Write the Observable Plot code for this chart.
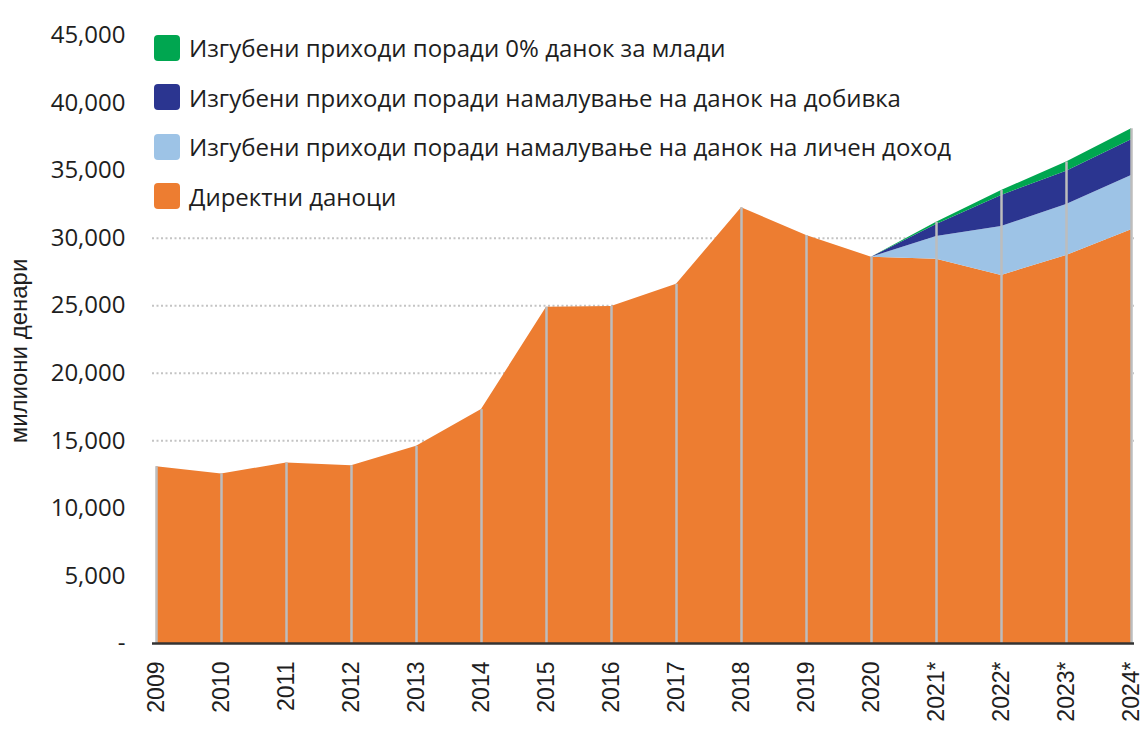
<!DOCTYPE html>
<html>
<head>
<meta charset="utf-8">
<script src="https://cdn.jsdelivr.net/npm/d3@7"></script>
<script src="https://cdn.jsdelivr.net/npm/@observablehq/plot@0.6"></script>
<style>
  html, body { margin: 0; padding: 0; background: #fff; }
  #wrap { position: relative; width: 1142px; height: 731px; overflow: hidden; }
  #legend { position: absolute; left: 154px; top: 23px; font-family: "Open Sans", sans-serif; font-size: 24px; color: #1e1e1e; }
  .row { display: flex; align-items: center; height: 49.5px; }
  .sw { width: 26px; height: 26px; border-radius: 4px; margin-right: 9px; flex: none; }
  #ytitle { position: absolute; width: 300px; left: -131.5px; top: 339px; height: 24px; line-height: 24px; text-align: center;
            transform: rotate(-90deg); transform-origin: 50% 50%; font-family: "Liberation Sans", Arial, sans-serif; font-size: 24px; color: #1e1e1e; white-space: nowrap; }
</style>
</head>
<body>
<div id="wrap">
  <div id="chart"></div>
  <div id="legend"></div>
  <div id="ytitle"></div>
</div>
<script>
const years = ["2009","2010","2011","2012","2013","2014","2015","2016","2017","2018","2019","2020","2021*","2022*","2023*","2024*"];
const directTaxes = [13090,12550,13360,13160,14590,17310,24890,24940,26590,32250,30200,28590,28440,27240,28720,30620];
const projYears = ["2020","2021*","2022*","2023*","2024*"];
const lostPersonalIncome = [0,1680,3620,3770,4020];
const lostProfitTax = [0,890,2300,2470,2650];
const lostYouthZero = [0,170,370,670,810];
const seriesNames = [
  "Директни даноци",
  "Изгубени приходи поради намалување на данок на личен доход",
  "Изгубени приходи поради намалување на данок на добивка",
  "Изгубени приходи поради 0% данок за млади"
];
const seriesColors = ["#ED7D31","#9DC3E6","#2B3590","#00A650"];
const legendOrder = [3,2,1,0];
const yTicks = [0,5000,10000,15000,20000,25000,30000,35000,40000,45000];
const gridTicks = [15000,20000,25000,30000];
const yTitle = "милиони денари";

const rows = [];
years.forEach((yr, i) => rows.push({year: yr, series: seriesNames[0], value: directTaxes[i]}));
[lostPersonalIncome, lostProfitTax, lostYouthZero].forEach((arr, s) => {
  projYears.forEach((yr, i) => rows.push({year: yr, series: seriesNames[s + 1], value: arr[i]}));
});
const totals = years.map(yr => ({year: yr, total: d3.sum(rows.filter(r => r.year === yr), r => r.value)}));

const fmt = d3.format(",");
const chart = Plot.plot({
  width: 1142, height: 731,
  marginLeft: 152, marginRight: 8, marginTop: 35, marginBottom: 88,
  x: {type: "point", domain: years, padding: 0},
  y: {domain: [0, 45000]},
  color: {domain: seriesNames, range: seriesColors},
  style: {fontFamily: "'Open Sans', sans-serif", color: "#1e1e1e", background: "#fff"},
  marks: [
    Plot.ruleY(gridTicks, {stroke: "#c4c4c4", strokeWidth: 2, strokeDasharray: "2 2.5"}),
    Plot.areaY(rows, {x: "year", y: "value", z: "series", fill: "series", order: null}),
    Plot.ruleX(totals, {x: "year", y1: 0, y2: "total", stroke: "#bdbdbd", strokeWidth: 2.5}),
    Plot.ruleY([0], {stroke: "#333", strokeWidth: 2.5}),
    Plot.axisY({ticks: yTicks, tickSize: 0, tickPadding: 27, tickFormat: d => d === 0 ? "-" : fmt(d),
                fontSize: 24, fontFamily: "'Open Sans', sans-serif", label: null}),
    Plot.axisX({tickSize: 0, tickPadding: 18, tickRotate: -90, fontSize: 23,
                fontFamily: "'Liberation Sans', Arial, sans-serif", label: null})
  ]
});
document.getElementById("chart").appendChild(chart);

const legend = document.getElementById("legend");
legendOrder.forEach(i => {
  const row = document.createElement("div");
  row.className = "row";
  const sw = document.createElement("span");
  sw.className = "sw";
  sw.style.background = seriesColors[i];
  const t = document.createElement("span");
  t.textContent = seriesNames[i];
  row.appendChild(sw); row.appendChild(t);
  legend.appendChild(row);
});
document.getElementById("ytitle").textContent = yTitle;
</script>
</body>
</html>
